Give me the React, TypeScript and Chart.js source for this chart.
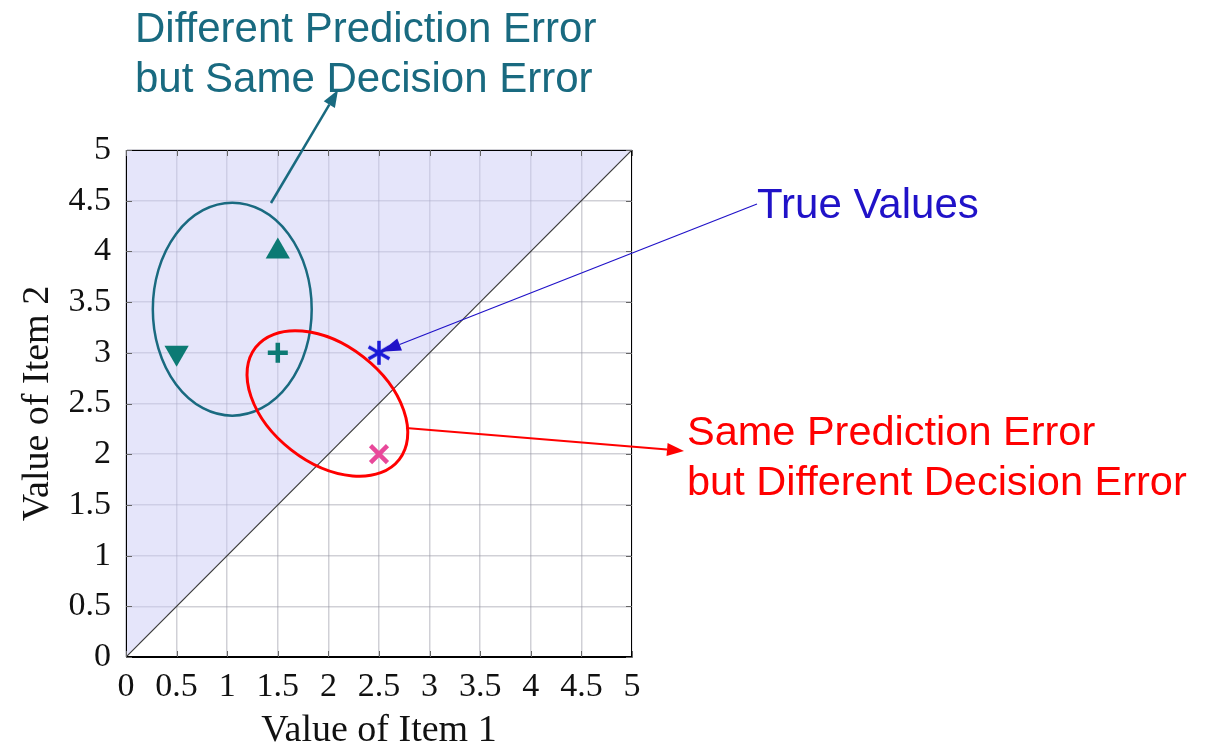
import React, { useEffect, useRef } from "react";
import { Chart, registerables } from "chart.js";

Chart.register(...registerables);

// ---- data ----
const tickValues = [0, 0.5, 1, 1.5, 2, 2.5, 3, 3.5, 4, 4.5, 5];
const tickLabels = ["0", "0.5", "1", "1.5", "2", "2.5", "3", "3.5", "4", "4.5", "5"];
const diagonalX = [0, 5];
const diagonalY = [0, 5];
const predUpX = [1.5];
const predUpY = [4];
const predDownX = [0.5];
const predDownY = [3];
const predPlusX = [1.5];
const predPlusY = [3];
const trueX = [2.5];
const trueY = [3];
const predCrossX = [2.5];
const predCrossY = [2];
// ellipses in data units: [cx, cy, rx, ry, rotationDeg(screen, clockwise)]
const tealEllipse = [1.05, 3.43, 0.785, 1.05, 0];
const redEllipse = [1.99, 2.5, 0.9, 0.58, 38];

const xTitle = "Value of Item 1";
const yTitle = "Value of Item 2";
const tealText = ["Different Prediction Error", "but Same Decision Error"];
const blueText = ["True Values"];
const redText = ["Same Prediction Error", "but Different Decision Error"];

const TEAL = "#0c7a74";
const TEAL_NOTE = "#196a80";
const BLUE = "#2012c8";
const STAR_BLUE = "#1a1ad8";
const RED = "#ff0000";
const PINK = "#e8489a";

const toPts = (xs: number[], ys: number[]) => xs.map((x, i) => ({ x, y: ys[i] }));

function makeAsterisk(color: string, size: number, lw: number) {
  const c = document.createElement("canvas");
  c.width = size;
  c.height = size;
  const g = c.getContext("2d")!;
  g.strokeStyle = color;
  g.lineWidth = lw;
  const r = size / 2 - 1;
  for (let k = 0; k < 3; k++) {
    const a = Math.PI / 2 + (k * Math.PI) / 3;
    g.beginPath();
    g.moveTo(size / 2 + r * Math.cos(a), size / 2 + r * Math.sin(a));
    g.lineTo(size / 2 - r * Math.cos(a), size / 2 - r * Math.sin(a));
    g.stroke();
  }
  return c;
}

function arrow(ctx: CanvasRenderingContext2D, x1: number, y1: number, x2: number, y2: number, color: string, lw: number, hl: number, hw: number) {
  const ang = Math.atan2(y2 - y1, x2 - x1);
  const bx = x2 - hl * Math.cos(ang);
  const by = y2 - hl * Math.sin(ang);
  ctx.save();
  ctx.strokeStyle = color;
  ctx.fillStyle = color;
  ctx.lineWidth = lw;
  ctx.beginPath();
  ctx.moveTo(x1, y1);
  ctx.lineTo(bx, by);
  ctx.stroke();
  ctx.beginPath();
  ctx.moveTo(x2, y2);
  ctx.lineTo(bx + (hw / 2) * Math.sin(ang), by - (hw / 2) * Math.cos(ang));
  ctx.lineTo(bx - (hw / 2) * Math.sin(ang), by + (hw / 2) * Math.cos(ang));
  ctx.closePath();
  ctx.fill();
  ctx.restore();
}

const annotations = {
  id: "annotations",
  afterDraw(chart: any) {
    const { ctx, chartArea, scales } = chart;
    const xs = scales.x;
    const ys = scales.y;
    ctx.save();
    // frame
    ctx.strokeStyle = "#000";
    ctx.lineWidth = 1;
    ctx.strokeRect(chartArea.left + 0.5, chartArea.top + 0.5, chartArea.right - chartArea.left - 1, chartArea.bottom - chartArea.top - 1);
    // inward ticks
    ctx.strokeStyle = "#666";
    tickValues.forEach((v) => {
      const px = Math.round(xs.getPixelForValue(v)) + 0.5;
      const py = Math.round(ys.getPixelForValue(v)) + 0.5;
      ctx.beginPath();
      ctx.moveTo(px, chartArea.bottom);
      ctx.lineTo(px, chartArea.bottom - 6);
      ctx.moveTo(px, chartArea.top);
      ctx.lineTo(px, chartArea.top + 6);
      ctx.moveTo(chartArea.left, py);
      ctx.lineTo(chartArea.left + 6, py);
      ctx.moveTo(chartArea.right, py);
      ctx.lineTo(chartArea.right - 6, py);
      ctx.stroke();
    });
    const ux = xs.getPixelForValue(1) - xs.getPixelForValue(0);
    const uy = ys.getPixelForValue(0) - ys.getPixelForValue(1);
    const drawEll = (e: number[], color: string, lw: number) => {
      ctx.beginPath();
      ctx.ellipse(xs.getPixelForValue(e[0]), ys.getPixelForValue(e[1]), e[2] * ux, e[3] * uy, (e[4] * Math.PI) / 180, 0, Math.PI * 2);
      ctx.strokeStyle = color;
      ctx.lineWidth = lw;
      ctx.stroke();
    };
    drawEll(tealEllipse, TEAL_NOTE, 2.5);
    drawEll(redEllipse, RED, 3);

    // arrows
    arrow(ctx, 271, 203, 338, 90, TEAL_NOTE, 2.5, 17, 13);
    const tx = xs.getPixelForValue(trueX[0]) + 2;
    const ty = ys.getPixelForValue(trueY[0]) - 1;
    arrow(ctx, 757, 204, tx, ty, BLUE, 1.2, 20, 13);
    arrow(ctx, 406, 428, 684, 451, RED, 2, 17, 13);

    // texts
    ctx.textBaseline = "alphabetic";
    ctx.textAlign = "left";
    ctx.font = '42px "Liberation Sans", Arial, sans-serif';
    ctx.fillStyle = TEAL_NOTE;
    ctx.fillText(tealText[0], 135, 42);
    ctx.fillText(tealText[1], 135, 92);
    ctx.fillStyle = BLUE;
    ctx.fillText(blueText[0], 757, 218);
    ctx.fillStyle = RED;
    ctx.font = '41.5px "Liberation Sans", Arial, sans-serif';
    ctx.fillText(redText[0], 687, 445);
    ctx.fillText(redText[1], 687, 495);
    ctx.restore();
  },
};

export default function App() {
  const ref = useRef<HTMLCanvasElement | null>(null);
  useEffect(() => {
    if (!ref.current) return;
    const star = makeAsterisk(STAR_BLUE, 26, 3.5);
    const serif = '"Liberation Serif", "Times New Roman", serif';
    const axis = (title: string, isX: boolean) => ({
      type: "linear" as const,
      min: 0,
      max: 5,
      position: isX ? ("bottom" as const) : ("left" as const),
      afterBuildTicks: (s: any) => {
        s.ticks = tickValues.map((v) => ({ value: v }));
      },
      afterFit: (s: any) => {
        if (isX) s.height = 91;
        else s.width = 126;
      },
      grid: { color: "rgba(150,150,165,0.45)", lineWidth: 1.5, drawTicks: false },
      border: { display: true, color: "#000", width: 1 },
      ticks: {
        color: "#111",
        font: { family: serif, size: 34 },
        padding: isX ? 10 : 15,
        maxRotation: 0,
        autoSkip: false,
        callback: (v: any) => {
          const i = tickValues.indexOf(Number(v));
          return i >= 0 ? tickLabels[i] : "";
        },
      },
      title: {
        display: true,
        text: title,
        color: "#111",
        font: { family: serif, size: 38, lineHeight: 1 },
        padding: isX ? { top: 0, bottom: -2 } : { top: 19, bottom: 0 },
      },
    });
    const chart = new Chart(ref.current, {
      type: "scatter",
      data: {
        datasets: [
          {
            type: "line",
            data: toPts(diagonalX, diagonalY),
            borderColor: "#3a3a3a",
            borderWidth: 1.2,
            pointRadius: 0,
            fill: "end",
            backgroundColor: "rgba(204,204,245,0.5)",
            order: 10,
          } as any,
          {
            data: toPts(predUpX, predUpY),
            pointStyle: "triangle",
            pointRadius: 14,
            backgroundColor: TEAL,
            borderColor: TEAL,
            borderWidth: 0,
            order: 1,
          },
          {
            data: toPts(predDownX, predDownY),
            pointStyle: "triangle",
            rotation: 180,
            pointRadius: 14,
            backgroundColor: TEAL,
            borderColor: TEAL,
            borderWidth: 0,
            order: 1,
          } as any,
          {
            data: toPts(predPlusX, predPlusY),
            pointStyle: "cross",
            pointRadius: 10,
            borderColor: TEAL,
            borderWidth: 4.5,
            order: 1,
          },
          {
            data: toPts(trueX, trueY),
            pointStyle: star as any,
            pointRadius: 13,
            borderColor: STAR_BLUE,
            order: 1,
          },
          {
            data: toPts(predCrossX, predCrossY),
            pointStyle: "crossRot",
            pointRadius: 12,
            borderColor: PINK,
            borderWidth: 4.5,
            order: 1,
          },
        ],
      },
      options: {
        responsive: false,
        animation: false,
        events: [],
        layout: { padding: { left: 0, top: 150, right: 583, bottom: 0 } },
        plugins: { legend: { display: false }, tooltip: { enabled: false } },
        scales: { x: axis(xTitle, true), y: axis(yTitle, false) } as any,
      },
      plugins: [annotations],
    });
    return () => chart.destroy();
  }, []);
  return (
    <div style={{ position: "absolute", left: 0, top: 0, width: 1215, height: 748, background: "#fff" }}>
      <canvas ref={ref} width={1215} height={748} style={{ width: 1215, height: 748, display: "block" }} />
    </div>
  );
}
